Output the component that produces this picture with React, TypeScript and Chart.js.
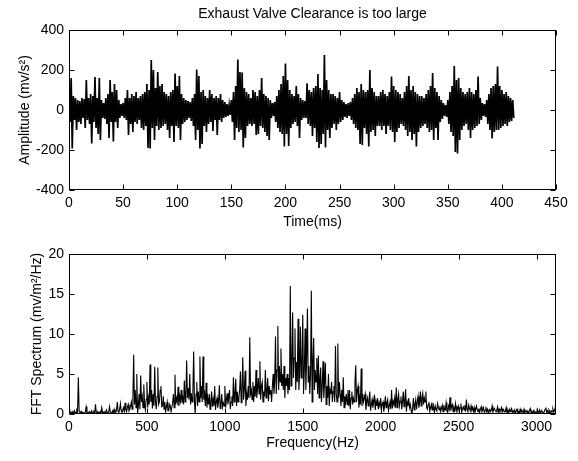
import React, { useEffect, useRef } from 'react';
import { Chart, registerables } from 'chart.js';

Chart.register(...registerables);

const FONT = "'Liberation Sans', Arial, Helvetica, sans-serif";

const TITLE = 'Exhaust Valve Clearance is too large';
const TIME_LABEL = 'Time(ms)';
const AMP_LABEL = 'Amplitude (mv/s²)';
const FREQ_LABEL = 'Frequency(Hz)';
const SPEC_LABEL = 'FFT Spectrum (mv/m²/Hz)';

// time signal, one sample per ms starting at 0 ms
const TIME_STEP_MS = 1;
const AMPLITUDE = [
  150, -60, 160, -192, 70, -50, 60, -100, 50, -60,
  45, -70, 60, -40, 55, -90, 150, -50, 60, -70,
  80, -167, 70, -60, 165, -90, 60, -120, 160, -150,
  50, -40, 35, -45, 60, -70, 80, -140, 150, -60,
  90, -158, 130, -60, 100, -90, 50, -40, 30, -30,
  35, -40, 60, -50, 100, -125, 60, -70, 80, -110,
  70, -60, 90, -70, 60, -50, 70, -90, 80, -100,
  90, -80, 130, -190, 100, -192, 250, -90, 200, -150,
  110, -80, 190, -100, 120, -90, 130, -80, 90, -70,
  80, -100, 70, -140, 90, -80, 100, -160, 183, -80,
  120, -90, 170, -150, 80, -70, 60, -60, 50, -50,
  45, -40, 40, -55, 60, -80, 80, -150, 203, -100,
  170, -192, 90, -170, 100, -80, 70, -110, 60, -70,
  100, -60, 80, -105, 60, -50, 70, -125, 60, -50,
  80, -60, 50, -40, 40, -35, 30, -30, 25, -25,
  50, -60, 90, -150, 120, -90, 253, -110, 190, -100,
  187, -188, 110, -140, 90, -80, 80, -70, 60, -80,
  100, -70, 90, -125, 70, -120, 100, -80, 160, -90,
  80, -110, 70, -130, 60, -150, 50, -40, 35, -30,
  40, -60, 70, -90, 100, -110, 130, -120, 170, -183,
  233, -120, 150, -180, 100, -90, 80, -70, 70, -60,
  120, -80, 80, -140, 60, -50, 50, -40, 45, -40,
  133, -70, 100, -80, 90, -130, 110, -90, 120, -160,
  180, -190, 110, -170, 100, -120, 275, -188, 150, -100,
  100, -140, 80, -90, 80, -70, 70, -100, 60, -70,
  90, -60, 50, -50, 40, -35, 30, -40, 35, -30,
  40, -50, 60, -70, 80, -90, 110, -100, 90, -170,
  130, -175, 100, -90, 90, -120, 100, -183, 200, -110,
  110, -100, 90, -130, 70, -80, 70, -80, 90, -100,
  100, -80, 80, -120, 70, -80, 90, -100, 167, -110,
  120, -160, 100, -110, 90, -90, 80, -70, 60, -80,
  90, -100, 120, -130, 170, -110, 100, -150, 120, -120,
  90, -183, 80, -110, 70, -90, 70, -80, 60, -70,
  80, -90, 100, -110, 120, -100, 185, -150, 110, -90,
  90, -150, 70, -60, 50, -45, 35, -30, 25, -35,
  50, -70, 90, -110, 120, -130, 220, -210, 150, -217,
  160, -150, 110, -100, 90, -80, 80, -70, 90, -100,
  110, -140, 90, -100, 80, -90, 100, -80, 167, -70,
  60, -50, 35, -30, 30, -35, 50, -70, 80, -100,
  110, -142, 120, -110, 130, -100, 217, -100, 120, -90,
  100, -80, 80, -70, 90, -80, 70, -60, 60, -55,
  50, -40,
];
const TIME_TICKS = [0, 50, 100, 150, 200, 250, 300, 350, 400, 450];
const AMP_TICKS = [-400, -200, 0, 200, 400];

// spectrum, one bin per 5 Hz starting at 0 Hz (one row = 100 Hz)
const FREQ_STEP_HZ = 5;
const SPECTRUM = [
  0.6, 0.3, 0.2, 0.1, 0.3, 0.1, 0.2, 0.4, 0.1, 0.2, 0.5, 0.3, 4.6, 0.4, 0.2, 0.1, 0.3, 0.1, 0.2, 0.1,
  0.1, 0.3, 0.9, 0.1, 0.2, 0.1, 0.3, 0.2, 0.1, 0.4, 0.2, 0.1, 0.3, 0.1, 1.2, 0.2, 0.1, 0.3, 0.2, 0.1,
  0.3, 0.1, 0.8, 0.2, 0.1, 0.3, 0.2, 0.1, 0.5, 0.2, 0.1, 0.3, 0.9, 0.2, 0.1, 0.2, 0.4, 0.1, 0.6, 0.2,
  0.2, 0.5, 1.5, 0.3, 0.2, 0.6, 1.3, 0.4, 0.2, 0.5, 0.8, 0.3, 1.4, 0.5, 0.3, 0.9, 1.2, 0.4, 0.6, 1.0,
  1.5, 0.6, 2.0, 7.4, 1.2, 3.0, 0.8, 5.0, 0.1, 1.0, 2.5, 0.6, 4.8, 1.5, 2.2, 0.8, 3.7, 1.2, 0.5, 1.8,
  4.0, 0.8, 2.0, 1.2, 6.2, 1.5, 3.0, 0.7, 2.5, 1.0, 5.9, 1.4, 0.6, 2.2, 5.8, 1.2, 1.5, 3.0, 3.5, 0.9,
  1.0, 2.2, 0.6, 1.5, 0.3, 0.9, 1.5, 0.4, 0.4, 1.2, 1.0, 0.3, 0.3, 1.4, 2.5, 0.8, 4.9, 1.2, 2.0, 1.5,
  3.4, 1.0, 2.2, 1.6, 3.0, 1.4, 2.0, 1.2, 4.2, 1.5, 2.5, 6.7, 2.0, 3.2, 1.8, 5.0, 1.2, 2.6, 1.5, 3.0,
  7.8, 1.5, 0.0, 2.5, 4.0, 1.0, 2.8, 1.5, 7.2, 2.0, 3.5, 1.5, 7.2, 1.8, 2.5, 1.0, 3.9, 0.8, 2.0, 1.2,
  2.5, 0.6, 1.5, 2.8, 0.9, 1.8, 1.0, 3.5, 0.5, 1.5, 2.0, 0.8, 1.6, 3.6, 0.7, 1.2, 2.5, 0.9, 1.4, 1.0,
  3.5, 0.8, 1.8, 2.6, 1.2, 2.0, 3.0, 0.6, 1.5, 2.2, 1.0, 4.6, 1.5, 2.5, 4.4, 1.0, 2.8, 1.5, 2.0, 3.0,
  5.3, 1.4, 2.8, 7.1, 1.8, 3.0, 5.4, 1.0, 2.5, 1.8, 3.5, 2.0, 9.6, 2.5, 3.0, 1.8, 4.0, 1.5, 3.5, 2.2,
  5.5, 2.0, 3.2, 4.5, 2.5, 6.6, 1.8, 3.5, 4.0, 1.5, 2.8, 2.2, 5.5, 2.0, 3.0, 4.5, 1.6, 3.5, 2.5, 3.0,
  1.5, 3.5, 5.0, 2.5, 4.0, 9.7, 2.5, 5.5, 11.0, 3.0, 6.0, 4.0, 8.2, 3.5, 5.0, 3.0, 6.0, 2.0, 4.5, 3.5,
  5.0, 2.5, 4.5, 3.0, 16.0, 3.5, 6.0, 12.7, 4.5, 7.0, 10.7, 3.0, 6.5, 4.0, 11.9, 3.0, 5.0, 10.9, 4.5, 6.0,
  12.4, 2.5, 5.5, 10.7, 3.0, 7.0, 13.2, 4.0, 6.0, 2.5, 5.0, 15.4, 1.5, 6.5, 9.5, 3.0, 5.5, 4.0, 7.0, 2.5,
  7.3, 2.0, 4.5, 5.8, 1.5, 3.5, 6.6, 2.0, 4.0, 6.4, 1.2, 3.5, 2.0, 5.0, 1.0, 3.0, 2.5, 4.0, 1.5, 2.8,
  3.5, 1.5, 8.5, 2.5, 1.5, 8.8, 2.0, 4.0, 2.5, 1.0, 3.0, 1.5, 4.6, 0.8, 2.2, 1.5, 2.5, 1.2, 3.0, 1.0,
  3.0, 0.6, 2.0, 2.8, 1.2, 2.0, 1.5, 4.0, 6.1, 1.5, 3.0, 3.5, 0.8, 2.0, 1.2, 5.7, 1.0, 2.5, 1.5, 2.0,
  2.5, 0.5, 1.5, 2.0, 1.0, 1.8, 2.8, 0.4, 1.2, 1.8, 0.8, 1.5, 2.4, 0.5, 1.6, 1.0, 2.0, 0.6, 1.4, 1.0,
  2.0, 0.6, 1.2, 1.5, 0.3, 1.0, 2.2, 0.8, 1.4, 1.8, 0.4, 1.0, 1.5, 0.6, 3.0, 0.7, 1.6, 1.2, 2.0, 0.8,
  3.3, 0.8, 1.8, 2.5, 1.0, 1.6, 2.2, 0.6, 1.5, 2.8, 0.9, 1.8, 3.1, 0.3, 1.5, 1.0, 2.0, 0.8, 1.2, 0.5,
  0.0, 0.8, 2.0, 0.5, 1.2, 1.8, 0.6, 1.5, 2.2, 0.8, 1.4, 2.8, 1.0, 2.0, 2.6, 1.2, 2.0, 1.5, 2.8, 0.8,
  0.6, 1.2, 1.5, 0.3, 0.8, 1.2, 0.5, 1.4, 0.9, 0.2, 1.0, 0.6, 0.4, 1.3, 0.8, 0.5, 1.0, 0.3, 0.7, 1.1,
  0.3, 1.1, 0.6, 0.5, 1.4, 0.4, 0.2, 1.0, 0.6, 2.1, 0.4, 1.0, 1.2, 0.3, 0.8, 0.5, 1.3, 0.4, 0.9, 0.6,
  1.0, 0.4, 0.8, 1.3, 0.2, 0.7, 0.9, 0.5, 1.1, 0.3, 1.8, 0.6, 0.3, 1.1, 0.7, 0.4, 1.0, 0.5, 0.8, 0.3,
  0.8, 0.2, 0.6, 1.0, 0.5, 0.3, 0.7, 0.2, 0.6, 0.9, 0.3, 0.5, 0.8, 0.2, 0.4, 0.9, 0.3, 0.6, 0.2, 0.5,
  0.6, 0.3, 0.5, 1.0, 0.2, 0.6, 0.7, 0.4, 0.3, 0.5, 0.9, 0.2, 0.6, 0.3, 0.5, 0.8, 0.2, 0.6, 0.4, 0.3,
  0.3, 0.8, 0.2, 0.4, 0.1, 0.6, 0.3, 0.5, 0.7, 0.2, 0.4, 0.2, 0.5, 0.1, 0.4, 0.6, 0.2, 0.3, 0.1, 0.6,
  0.2, 0.5, 0.3, 0.1, 0.6, 0.2, 0.3, 0.4, 0.1, 0.3, 0.1, 0.5, 0.7, 0.2, 0.3, 0.1, 0.4, 0.2, 0.3, 0.1,
  0.1, 0.6, 0.3, 0.2, 0.5, 0.1, 0.3, 0.4, 0.2, 0.1, 0.3, 0.6, 0.8, 0.2, 0.4, 0.2, 0.5, 0.3, 0.1, 0.4,
  0.3, 0.6, 0.2, 0.4, 0.8, 0.3,
];
const FREQ_TICKS = [0, 500, 1000, 1500, 2000, 2500, 3000];
const SPEC_TICKS = [0, 5, 10, 15, 20];

const boxPlugin = {
  id: 'matlabBox',
  afterDraw(chart: any) {
    const { ctx, chartArea: a, scales } = chart;
    const L = Math.round(a.left) + 0.5;
    const R = Math.round(a.right) - 0.5;
    const T = Math.round(a.top) + 0.5;
    const B = Math.round(a.bottom) - 0.5;
    ctx.save();
    ctx.strokeStyle = '#000';
    ctx.lineWidth = 1;
    ctx.strokeRect(L, T, R - L, B - T);
    ctx.beginPath();
    const len = 5;
    for (const t of scales.x.ticks) {
      const px = Math.round(scales.x.getPixelForValue(t.value)) + 0.5;
      ctx.moveTo(px, B);
      ctx.lineTo(px, B - len);
      ctx.moveTo(px, T);
      ctx.lineTo(px, T + len);
    }
    for (const t of scales.y.ticks) {
      const py = Math.round(scales.y.getPixelForValue(t.value)) + 0.5;
      ctx.moveTo(L, py);
      ctx.lineTo(L + len, py);
      ctx.moveTo(R, py);
      ctx.lineTo(R - len, py);
    }
    ctx.stroke();
    ctx.restore();
  },
};

function makeConfig(opts: {
  values: number[];
  step: number;
  xMin: number;
  xMax: number;
  yMin: number;
  yMax: number;
  xTicks: number[];
  yTicks: number[];
  xTitle: string;
  yTitle: string;
  yTitlePad: number;
  xHeight: number;
  xTitlePadBottom: number;
  padTop: number;
  lineWidth: number;
  title?: string;
}) {
  const font = { family: FONT, size: 14, lineHeight: 1.2 };
  const points = opts.values.map((v, i) => ({ x: i * opts.step, y: v }));
  return {
    type: 'line' as const,
    data: {
      datasets: [
        {
          data: points,
          borderColor: '#000',
          borderWidth: opts.lineWidth,
          pointRadius: 0,
          tension: 0,
          fill: false,
        },
      ],
    },
    options: {
      responsive: false,
      animation: false as const,
      devicePixelRatio: 1,
      layout: { padding: { top: opts.padTop, right: 22, left: 0, bottom: 0 } },
      plugins: {
        legend: { display: false },
        tooltip: { enabled: false },
        title: opts.title
          ? {
              display: true,
              text: opts.title,
              color: '#000',
              fullSize: false,
              font: { ...font, weight: 'normal' as const },
              padding: { top: 6, bottom: 7.2 },
            }
          : { display: false },
      },
      scales: {
        x: {
          type: 'linear' as const,
          min: opts.xMin,
          max: opts.xMax,
          grid: { display: false, drawTicks: false },
          border: { display: false },
          afterBuildTicks: (s: any) => {
            s.ticks = opts.xTicks.map((v) => ({ value: v }));
          },
          afterFit: (s: any) => {
            s.height = opts.xHeight;
            s.paddingLeft = 0;
            s.paddingRight = 0;
          },
          ticks: {
            color: '#000',
            font,
            padding: 5,
            maxRotation: 0,
            autoSkip: false,
            callback: (v: any) => String(v),
          },
          title: {
            display: true,
            text: opts.xTitle,
            color: '#000',
            font,
            padding: { top: 0, bottom: opts.xTitlePadBottom },
          },
        },
        y: {
          type: 'linear' as const,
          min: opts.yMin,
          max: opts.yMax,
          grid: { display: false, drawTicks: false },
          border: { display: false },
          afterBuildTicks: (s: any) => {
            s.ticks = opts.yTicks.map((v) => ({ value: v }));
          },
          afterFit: (s: any) => {
            s.width = 69;
            s.paddingTop = 0;
            s.paddingBottom = 0;
          },
          ticks: {
            color: '#000',
            font,
            padding: 5,
            autoSkip: false,
            callback: (v: any) => String(v),
          },
          title: {
            display: true,
            text: opts.yTitle,
            color: '#000',
            font,
            padding: { top: opts.yTitlePad, bottom: 0 },
          },
        },
      },
    },
    plugins: [boxPlugin],
  };
}

export default function App() {
  const topRef = useRef<HTMLCanvasElement>(null);
  const botRef = useRef<HTMLCanvasElement>(null);

  useEffect(() => {
    const top = new Chart(
      topRef.current as HTMLCanvasElement,
      makeConfig({
        values: AMPLITUDE,
        step: TIME_STEP_MS,
        xMin: 0,
        xMax: 450,
        yMin: -400,
        yMax: 400,
        xTicks: TIME_TICKS,
        yTicks: AMP_TICKS,
        xTitle: TIME_LABEL,
        yTitle: AMP_LABEL,
        yTitlePad: 16.6,
        xHeight: 40,
        xTitlePadBottom: -1,
        padTop: 0,
        lineWidth: 1.7,
        title: TITLE,
      }) as any
    );
    const bot = new Chart(
      botRef.current as HTMLCanvasElement,
      makeConfig({
        values: SPECTRUM,
        step: FREQ_STEP_HZ,
        xMin: 0,
        xMax: 3125,
        yMin: 0,
        yMax: 20,
        xTicks: FREQ_TICKS,
        yTicks: SPEC_TICKS,
        xTitle: FREQ_LABEL,
        yTitle: SPEC_LABEL,
        yTitlePad: 29,
        xHeight: 47,
        xTitlePadBottom: 9.6,
        padTop: 24,
        lineWidth: 1.1,
      }) as any
    );
    return () => {
      top.destroy();
      bot.destroy();
    };
  }, []);

  return (
    <div
      style={{
        position: 'fixed',
        left: 0,
        top: 0,
        width: 578,
        height: 461,
        background: '#fff',
      }}
    >
      <canvas
        ref={topRef}
        width={578}
        height={230}
        style={{ position: 'absolute', left: 0, top: 0, width: 578, height: 230 }}
      />
      <canvas
        ref={botRef}
        width={578}
        height={231}
        style={{ position: 'absolute', left: 0, top: 230, width: 578, height: 231 }}
      />
    </div>
  );
}
